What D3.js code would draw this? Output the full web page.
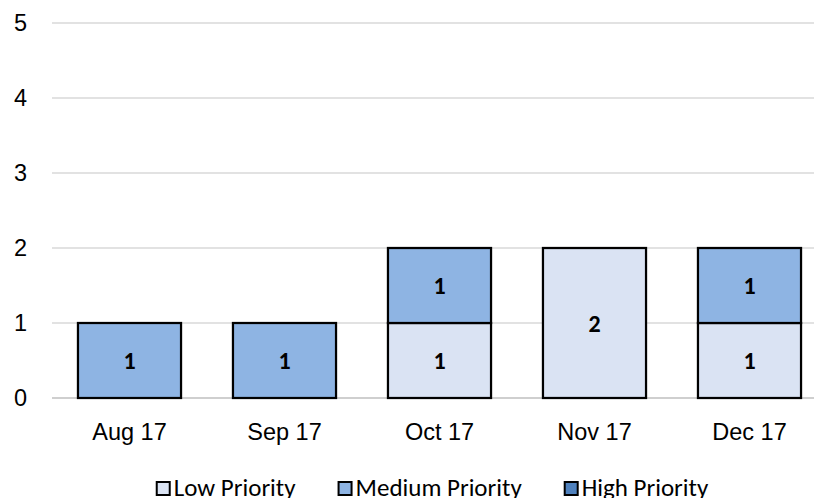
<!DOCTYPE html>
<html>
<head>
<meta charset="utf-8">
<script src="https://cdn.jsdelivr.net/npm/d3@7"></script>
<style>
  body { margin: 0; background: #fff; }
  svg { display: block; font-family: Carlito, Calibri, Lato, sans-serif; }
</style>
</head>
<body>
<div id="mainDiv"></div>
<script>
'use strict';

// dados do gráfico
var months = ['Aug 17', 'Sep 17', 'Oct 17', 'Nov 17', 'Dec 17'];
var lowPriority = [0, 0, 1, 2, 1];
var mediumPriority = [1, 1, 1, 0, 1];
var highPriority = [0, 0, 0, 0, 0];
var seriesNames = ['Low Priority', 'Medium Priority', 'High Priority'];
var yTicks = [0, 1, 2, 3, 4, 5];

var W = 814, H = 498;
var plot = {left: 52, right: 827, top: 23, bottom: 398};
var colors = ['#dae3f3', '#8eb4e3', '#4f81bd'];
var fontSize = 23.5;

var svg = d3.select('#mainDiv').append('svg')
    .attr('width', W)
    .attr('height', H);

var x = d3.scaleBand().domain(months).range([plot.left, plot.right]).paddingInner(0.335).paddingOuter(0.1675);
var y = d3.scaleLinear().domain([0, 5]).range([plot.bottom, plot.top]);

// linhas de grade
svg.append('g')
    .selectAll('line')
    .data(yTicks)
    .enter()
    .append('line')
    .attr('x1', plot.left)
    .attr('x2', W)
    .attr('y1', function(d){ return y(d); })
    .attr('y2', function(d){ return y(d); })
    .attr('stroke', function(d){ return d === 0 ? '#bfbfbf' : '#d9d9d9'; })
    .attr('stroke-width', 1.5);

// eixo y (só os rótulos)
var yAxis = d3.axisLeft(y).tickValues(yTicks).tickSize(0).tickPadding(0).tickFormat(d3.format('d'));
var yg = svg.append('g').attr('transform', 'translate(27,0)').call(yAxis);
yg.select('.domain').remove();
yg.selectAll('text').attr('font-size', fontSize).attr('fill', '#000').attr('font-family', null);

// eixo x
var xAxis = d3.axisBottom(x).tickSize(0).tickPadding(0);
var xg = svg.append('g').attr('transform', 'translate(0,' + (plot.bottom + 25) + ')').call(xAxis);
xg.select('.domain').remove();
xg.selectAll('text').attr('font-size', fontSize).attr('fill', '#000').attr('font-family', null);

// barras empilhadas
var table = months.map(function(m, i){
    return {month: m, 'Low Priority': lowPriority[i], 'Medium Priority': mediumPriority[i], 'High Priority': highPriority[i]};
});
var stacked = d3.stack().keys(seriesNames)(table);

var layers = svg.append('g')
    .selectAll('g')
    .data(stacked)
    .enter()
    .append('g')
    .attr('fill', function(d, i){ return colors[i]; });

layers.selectAll('rect')
    .data(function(d){ return d.filter(function(p){ return p[1] - p[0] > 0; }); })
    .enter()
    .append('rect')
    .attr('x', function(d){ return x(d.data.month); })
    .attr('y', function(d){ return y(d[1]); })
    .attr('width', x.bandwidth())
    .attr('height', function(d){ return y(d[0]) - y(d[1]); })
    .attr('stroke', '#000')
    .attr('stroke-width', 2.25);

layers.selectAll('text')
    .data(function(d){ return d.filter(function(p){ return p[1] - p[0] > 0; }); })
    .enter()
    .append('text')
    .attr('x', function(d){ return x(d.data.month) + x.bandwidth() / 2; })
    .attr('y', function(d){ return (y(d[0]) + y(d[1])) / 2; })
    .attr('dy', '0.36em')
    .attr('text-anchor', 'middle')
    .attr('font-size', 24)
    .attr('font-weight', 'bold')
    .attr('fill', '#000')
    .text(function(d){ return d[1] - d[0]; });

// legenda
var legend = svg.append('g');
var items = legend.selectAll('g')
    .data(seriesNames)
    .enter()
    .append('g');

items.append('rect')
    .attr('x', 1)
    .attr('y', -14)
    .attr('width', 13)
    .attr('height', 13)
    .attr('fill', function(d, i){ return colors[i]; })
    .attr('stroke', '#000')
    .attr('stroke-width', 2);

items.append('text')
    .attr('x', 18)
    .attr('font-size', 25)
    .attr('fill', '#000')
    .text(function(d){ return d; });

var gap = 42, pos = 0, offsets = [];
items.each(function(){
    var w = 18 + d3.select(this).select('text').node().getComputedTextLength();
    offsets.push(pos);
    pos += w + gap;
});
var total = pos - gap;
var start = 432 - total / 2;
items.attr('transform', function(d, i){ return 'translate(' + (start + offsets[i]) + ',496)'; });
</script>
</body>
</html>
